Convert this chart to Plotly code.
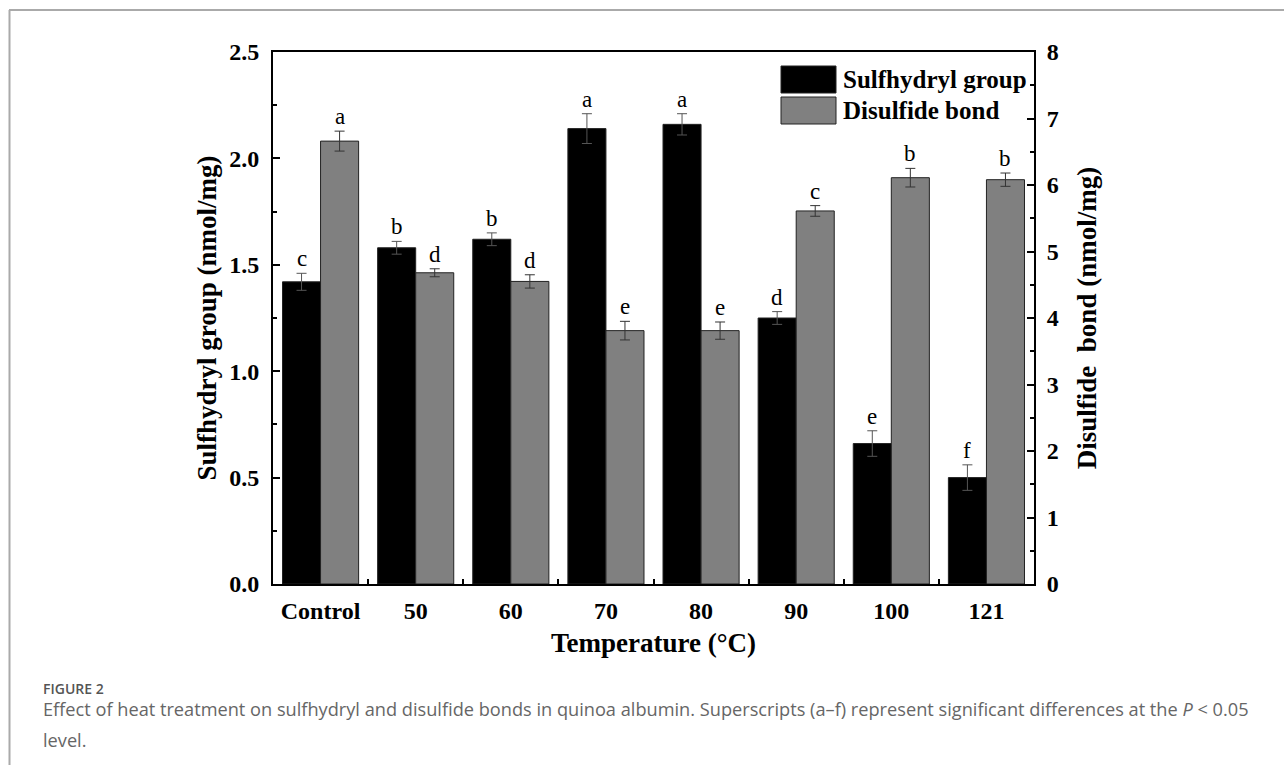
import plotly.graph_objects as go

categories = ["Control", "50", "60", "70", "80", "90", "100", "121"]
sulfhydryl = [1.42, 1.58, 1.62, 2.14, 2.16, 1.25, 0.66, 0.50]
sulfhydryl_err = [0.04, 0.03, 0.03, 0.07, 0.05, 0.03, 0.06, 0.06]
disulfide = [6.66, 4.68, 4.55, 3.81, 3.81, 5.61, 6.11, 6.08]
disulfide_err = [0.15, 0.06, 0.10, 0.14, 0.13, 0.08, 0.14, 0.10]
sulf_letters = ["c", "b", "b", "a", "a", "d", "e", "f"]
disul_letters = ["a", "d", "d", "e", "e", "c", "b", "b"]

W, H = 1284, 765
L, R, T, B = 273, 1034, 52, 584

def px(x):
    return (x - L) / (R - L)

def py(y):
    return (B - y) / (B - T)

SERIF = "Liberation Serif"
TICK = 24
TITLE = 27

fig = go.Figure()
fig.add_trace(go.Bar(
    x=categories, y=sulfhydryl, name="Sulfhydryl group", offsetgroup="1",
    marker=dict(color="#000000", line=dict(color="#222222", width=1)),
    error_y=dict(type="data", array=sulfhydryl_err, color="#555555", thickness=1, width=5),
    yaxis="y",
))
fig.add_trace(go.Bar(
    x=categories, y=disulfide, name="Disulfide bond", offsetgroup="2",
    marker=dict(color="#808080", line=dict(color="#222222", width=1)),
    error_y=dict(type="data", array=disulfide_err, color="#333333", thickness=1, width=5),
    yaxis="y2",
))

annotations = []
for i, (v, e, t) in enumerate(zip(sulfhydryl, sulfhydryl_err, sulf_letters)):
    annotations.append(dict(x=i - 0.2, y=v + e, xref="x", yref="y", text=t, showarrow=False,
                            yanchor="bottom", yshift=0,
                            font=dict(family=SERIF, size=23, color="#000")))
for i, (v, e, t) in enumerate(zip(disulfide, disulfide_err, disul_letters)):
    annotations.append(dict(x=i + 0.2, y=v + e, xref="x", yref="y2", text=t, showarrow=False,
                            yanchor="bottom", yshift=0,
                            font=dict(family=SERIF, size=23, color="#000")))

# Legend (manual)
legend_items = [("Sulfhydryl group", "#000000", 66, 93), ("Disulfide bond", "#808080", 97, 124)]
shapes = []
for label, col, y0, y1 in legend_items:
    shapes.append(dict(type="rect", xref="paper", yref="paper", x0=px(781), x1=px(836),
                       y0=py(y1), y1=py(y0), fillcolor=col, line=dict(color="#222222", width=1)))
    annotations.append(dict(x=px(841), y=py((y0 + y1) / 2), xref="paper", yref="paper",
                            text="<b>%s</b>" % label, showarrow=False, xanchor="left", yanchor="middle",
                            font=dict(family=SERIF, size=25, color="#000")))

# Page frame lines
shapes.append(dict(type="line", xref="paper", yref="paper", x0=px(9), x1=px(1284), y0=py(10), y1=py(10),
                   line=dict(color="#aaaaaa", width=2)))
shapes.append(dict(type="line", xref="paper", yref="paper", x0=px(9.5), x1=px(9.5), y0=py(10), y1=py(765),
                   line=dict(color="#aaaaaa", width=2)))

# Caption
annotations.append(dict(x=px(41), y=py(688), xref="paper", yref="paper", text="FIGURE 2",
                        showarrow=False, xanchor="left", yanchor="middle",
                        font=dict(family="Open Sans", size=14, color="#555555", weight=600)))
annotations.append(dict(x=px(41), y=py(709), xref="paper", yref="paper",
                        text="Effect of heat treatment on sulfhydryl and disulfide bonds in quinoa albumin. Superscripts (a\u2013f) represent significant differences at the <i>P</i> &lt; 0.05",
                        showarrow=False, xanchor="left", yanchor="middle",
                        font=dict(family="Open Sans", size=18.2, color="#666666")))
annotations.append(dict(x=px(41), y=py(740), xref="paper", yref="paper", text="level.",
                        showarrow=False, xanchor="left", yanchor="middle",
                        font=dict(family="Open Sans", size=18.2, color="#666666")))

fig.update_layout(
    width=W, height=H,
    margin=dict(l=L, r=W - R, t=T, b=H - B, pad=0),
    paper_bgcolor="white", plot_bgcolor="white",
    barmode="group", bargap=0.2, bargroupgap=0,
    showlegend=False,
    annotations=annotations, shapes=shapes,
    xaxis=dict(
        type="category", range=[-0.5, 7.5], showline=True, linecolor="#000", linewidth=2,
        mirror=True, ticks="inside", tickson="boundaries", ticklen=5, tickwidth=1.5, tickcolor="#000",
        tickfont=dict(family=SERIF, size=TICK, color="#000", weight="bold"),
        ticklabelstandoff=4,
        title=dict(text="<b>Temperature (°C)</b>", font=dict(family=SERIF, size=TITLE, color="#000"), standoff=10),
        showgrid=False, zeroline=False,
    ),
    yaxis=dict(
        range=[0, 2.5], dtick=0.5, tickformat=".1f", showline=True, linecolor="#000", linewidth=2,
        ticks="inside", ticklen=7, tickwidth=1.5, tickcolor="#000",
        minor=dict(ticks="inside", ticklen=4, dtick=0.25, tickcolor="#000", tickwidth=1.5),
        tickfont=dict(family=SERIF, size=TICK, color="#000", weight="bold"),
        ticklabelstandoff=7,
        title=dict(text="<b>Sulfhydryl group (nmol/mg)</b>", font=dict(family=SERIF, size=TITLE, color="#000"), standoff=5),
        showgrid=False, zeroline=False,
    ),
    yaxis2=dict(
        range=[0, 8], dtick=1, overlaying="y", side="right", showline=True, linecolor="#000", linewidth=2,
        ticks="inside", ticklen=7, tickwidth=1.5, tickcolor="#000",
        minor=dict(ticks="inside", ticklen=4, dtick=0.5, tickcolor="#000", tickwidth=1.5),
        tickfont=dict(family=SERIF, size=TICK, color="#000", weight="bold"),
        ticklabelstandoff=6,
        title=dict(text="<b>Disulfide\u00a0 bond (nmol/mg)</b>", font=dict(family=SERIF, size=TITLE, color="#000"), standoff=19),
        showgrid=False, zeroline=False,
    ),
)

fig.write_html("out.html")
